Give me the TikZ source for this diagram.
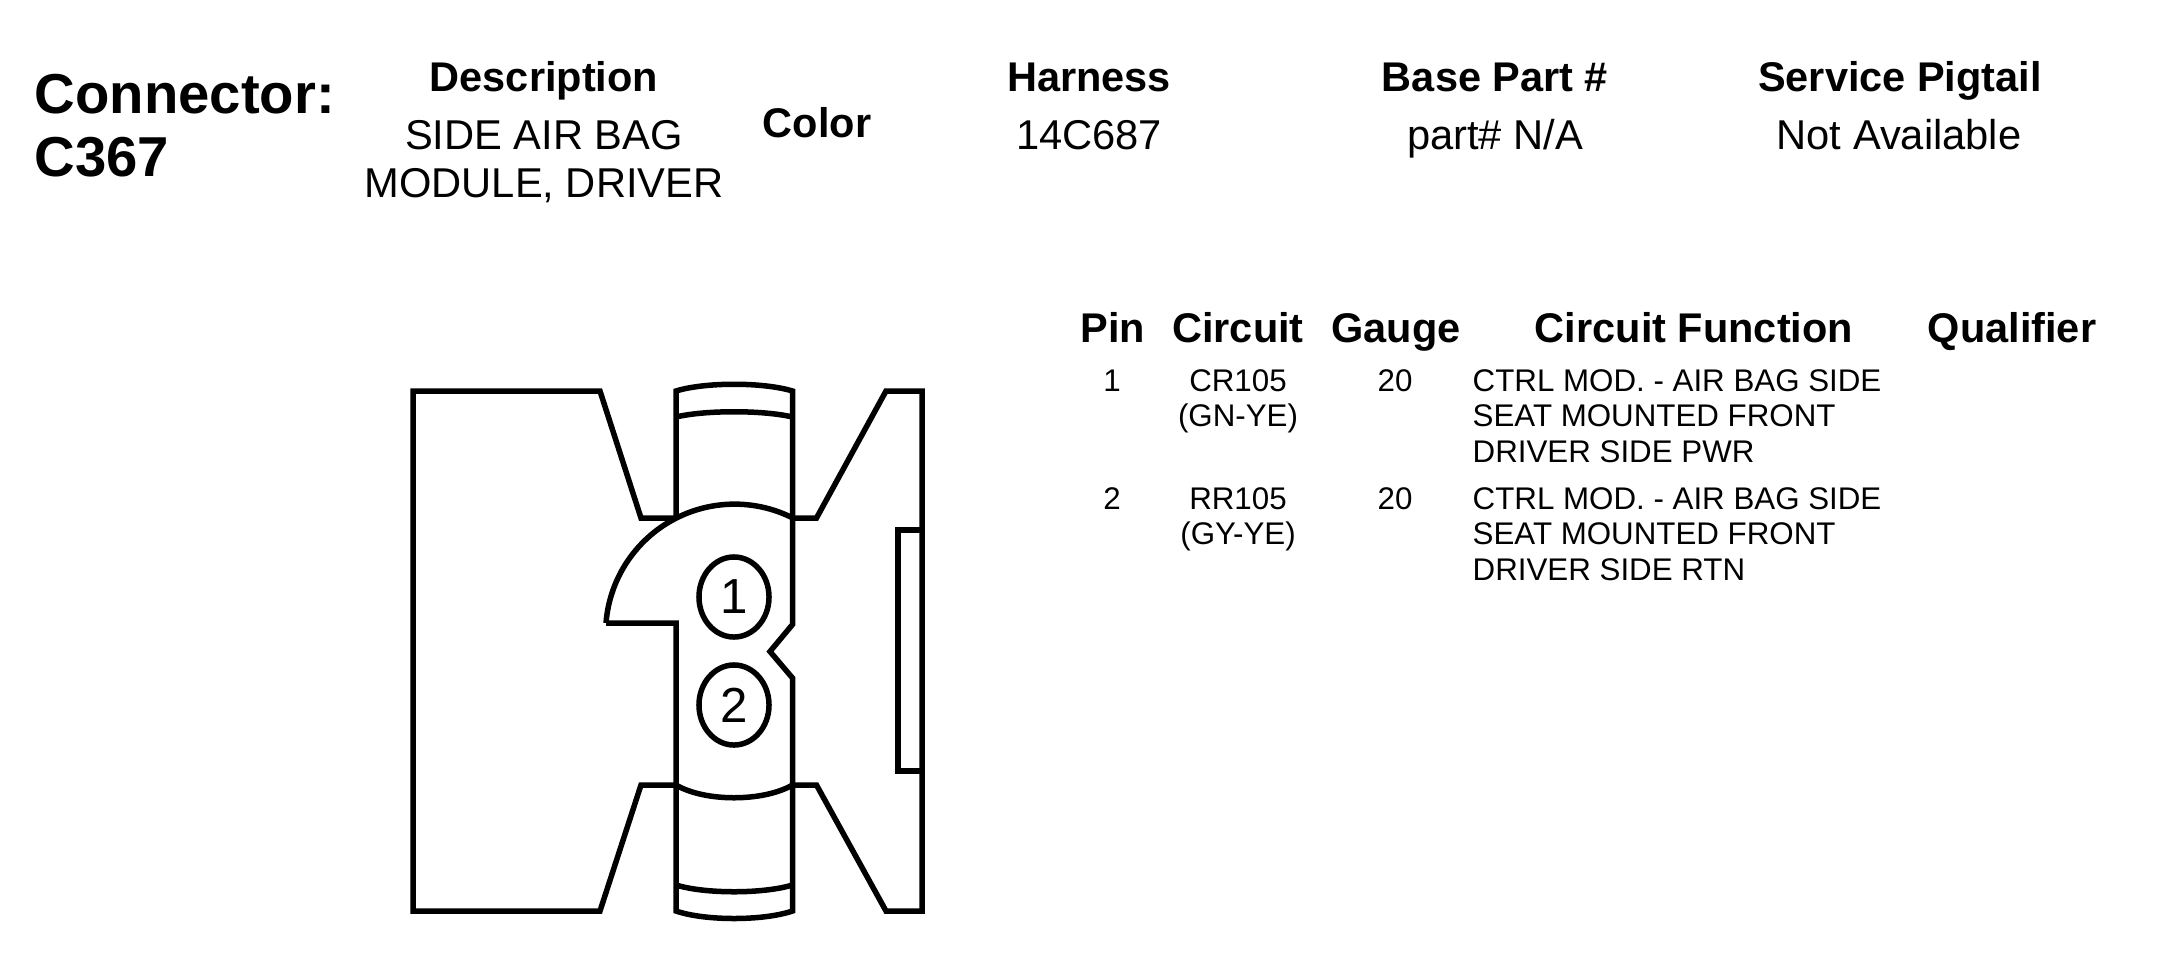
\documentclass[tikz,border=0pt]{standalone}
\usepackage{fontspec}
\setmainfont{Liberation Sans}
\usetikzlibrary{shapes.geometric}

\begin{document}
\begin{tikzpicture}[x=0.01cm, y=-0.01cm, line join=miter,
	outline/.style={line width=0.055cm},
	every node/.style={inner sep=0pt, anchor=base},
	title/.style={font=\bfseries\fontsize{16pt}{18pt}\selectfont, anchor=base west},
	head/.style={font=\bfseries\fontsize{11.8pt}{14pt}\selectfont},
	info/.style={font=\fontsize{11.85pt}{14pt}\selectfont},
	cell/.style={font=\fontsize{8.9pt}{10pt}\selectfont},
	pinhole/.style={ellipse, draw, line width=0.055cm, minimum width=0.7cm, minimum height=0.8cm, anchor=center, font=\fontsize{14pt}{16pt}\selectfont}]
	\useasboundingbox (0,0) rectangle (2178,963);

	% header
	\node[title] (conn) at (34,113) {Connector:};
	\node[title] (cnum) at (34,176) {C367};
	\node[head] (desc) at (544,91) {Description};
	\node[info] (desc1) at (544,149) {SIDE AIR BAG};
	\node[info] (desc2) at (544,197) {MODULE, DRIVER};
	\node[head] (color) at (817,137) {Color};
	\node[head] (harn) at (1089,91) {Harness};
	\node[info] (harnval) at (1089,149) {14C687};
	\node[head] (base) at (1495,91) {Base Part \#};
	\node[info] (baseval) at (1495,149) {part\# N/A};
	\node[head] (serv) at (1900,91) {Service Pigtail};
	\node[info] (servval) at (1899,149) {Not Available};

	% table
	\node[head] (pin) at (1113,342) {Pin};
	\node[head] (circ) at (1238,342) {Circuit};
	\node[head] (gauge) at (1396,342) {Gauge};
	\node[head] (func) at (1694,342) {Circuit Function};
	\node[head] (qual) at (2012,342) {Qualifier};

	\node[cell] (p1) at (1112,391) {1};
	\node[cell] (c1) at (1238,391) {CR105};
	\node[cell] (w1) at (1238,426) {(GN-YE)};
	\node[cell] (g1) at (1395,391) {20};
	\node[cell, anchor=base west] (f1a) at (1472,391) {CTRL MOD. - AIR BAG SIDE};
	\node[cell, anchor=base west] (f1b) at (1472,426) {SEAT MOUNTED FRONT};
	\node[cell, anchor=base west] (f1c) at (1472,462) {DRIVER SIDE PWR};

	\node[cell] (p2) at (1112,509) {2};
	\node[cell] (c2) at (1238,509) {RR105};
	\node[cell] (w2) at (1238,544) {(GY-YE)};
	\node[cell] (g2) at (1395,509) {20};
	\node[cell, anchor=base west] (f2a) at (1472,509) {CTRL MOD. - AIR BAG SIDE};
	\node[cell, anchor=base west] (f2b) at (1472,544) {SEAT MOUNTED FRONT};
	\node[cell, anchor=base west] (f2c) at (1472,580) {DRIVER SIDE RTN};

	% connector body
	\draw[outline] (676,518) -- (641,518) -- (600,391) -- (413,391) -- (413,911) -- (600,911) -- (641,785) -- (676,785);
	\draw[outline] (792.5,518) -- (816.5,518) -- (886,391) -- (922,391) -- (922,911) -- (886,911) -- (816.5,785) -- (792.5,785);
	\draw[outline] (922,530) -- (898,530) -- (898,771) -- (922,771);

	% centre column
	\draw[outline] (676,518) -- (676,391) .. controls (705,382) and (763,382) .. (792.5,391) -- (792.5,624.5) -- (770,651.5) -- (792.5,678) -- (792.5,911) .. controls (763,921) and (705,921) .. (676,911) -- (676,623) -- (606,623);
	\draw[outline] (606,623) arc[start angle=-175.5, end angle=-63, radius=129];
	\draw[outline] (676,417) .. controls (705,410) and (763,410) .. (792.5,417);
	\draw[outline] (676,785) .. controls (705,802) and (763,802) .. (792.5,785);
	\draw[outline] (676,885) .. controls (705,894) and (763,894) .. (792.5,885);

	\node[pinhole] (hole1) at (734,597) {1};
	\node[pinhole] (hole2) at (734,705) {2};
\end{tikzpicture}
\end{document}
